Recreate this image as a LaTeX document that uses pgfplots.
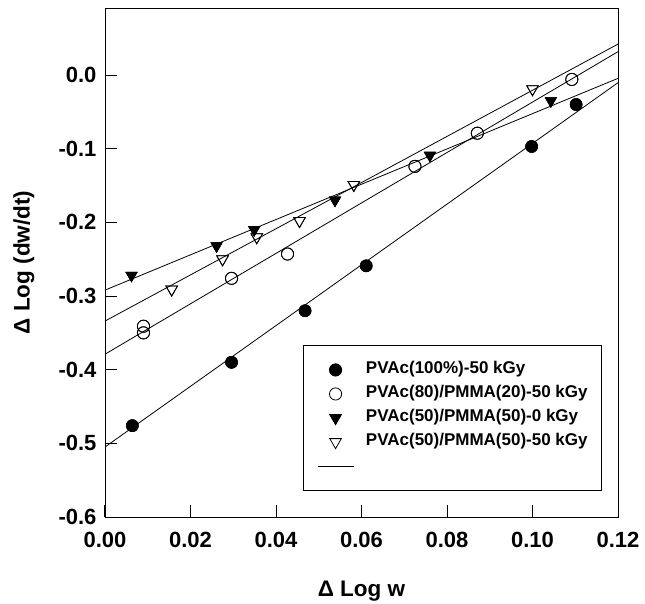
\documentclass[border=0pt]{standalone}
\usepackage{pgfplots}
\pgfplotsset{compat=1.18}
\usepackage{fontspec}
\setmainfont{Liberation Sans}
\begin{document}
\begin{tikzpicture}
\path[use as bounding box] (-105pt,-86pt) rectangle (540pt,517pt);
\begin{axis}[
  at={(0pt,0pt)}, anchor=south west,
  scale only axis, width=513pt, height=509pt,
  xmin=0, xmax=0.12, ymin=-0.6, ymax=0.091,
  axis line style={line width=0.9pt},
  tick pos=left, tick align=inside, major tick length=12pt,
  tick style={line width=1pt, black},
  xtick={0,0.02,0.04,0.06,0.08,0.10,0.12},
  xticklabels={0.00,0.02,0.04,0.06,0.08,0.10,0.12},
  ytick={-0.6,-0.5,-0.4,-0.3,-0.2,-0.1,0.0},
  yticklabels={-0.6,-0.5,-0.4,-0.3,-0.2,-0.1,0.0},
  tick label style={font=\fontsize{22}{26}\selectfont\bfseries},
  xticklabel style={yshift=-12pt},
  yticklabel style={xshift=-5pt},
  xlabel={Δ Log w},
  ylabel={Δ Log (dw/dt)},
  every axis x label/.style={at={(axis description cs:0.5,-0.1454)}, anchor=center,
    font=\fontsize{22.5}{27}\selectfont\bfseries},
  every axis y label/.style={at={(axis description cs:-0.158,0.5)}, rotate=90, anchor=center,
    font=\fontsize{22.5}{27}\selectfont\bfseries},
  legend image code/.code={\draw[mark repeat=2,mark phase=2,#1] plot coordinates {(0pt,0pt)(18pt,0pt)(36pt,0pt)};},
  legend style={at={(rel axis cs:0.3854,0.3379)}, anchor=north west,
    draw=black, line width=0.9pt,
    font=\fontsize{17}{20}\selectfont\bfseries,
    inner xsep=14pt, inner ysep=12.5pt,
    column sep=12pt, row sep=0pt,
    nodes={inner sep=0pt, text height=16pt, text depth=8pt}},
  legend cell align=left,
]
% data points
\addplot[only marks, mark=*, mark size=6.1pt, mark options={fill=black, draw=black}]
  coordinates {(0.0064,-0.476) (0.0296,-0.390) (0.0468,-0.320) (0.0611,-0.259) (0.0998,-0.097) (0.1102,-0.040)};
\addlegendentry{PVAc(100\%)-50 kGy}
\addplot[only marks, mark=o, mark size=6.1pt, mark options={fill=white, draw=black, line width=0.8pt}]
  coordinates {(0.0090,-0.341) (0.0090,-0.350) (0.0296,-0.276) (0.0427,-0.243) (0.0725,-0.124) (0.0871,-0.079) (0.1092,-0.006)};
\addlegendentry{PVAc(80)/PMMA(20)-50 kGy}
\addplot[only marks, mark=triangle*, mark size=6.7pt, mark options={rotate=180, fill=black, draw=black}]
  coordinates {(0.0062,-0.272) (0.0261,-0.232) (0.0349,-0.210) (0.0538,-0.170) (0.0760,-0.109) (0.1043,-0.035)};
\addlegendentry{PVAc(50)/PMMA(50)-0 kGy}
\addplot[only marks, mark=triangle, mark size=6.7pt, mark options={rotate=180, fill=white, draw=black, line width=0.8pt}]
  coordinates {(0.0156,-0.291) (0.0275,-0.250) (0.0355,-0.220) (0.0455,-0.198) (0.0582,-0.149) (0.1000,-0.019)};
\addlegendentry{PVAc(50)/PMMA(50)-50 kGy}
% fitted lines
\addplot[black, line width=0.8pt] coordinates {(0,-0.505) (0.12,-0.0104)};
\addlegendentry{\strut}
\addplot[black, line width=0.8pt, forget plot] coordinates {(0,-0.379) (0.12,0.0317)};
\addplot[black, line width=0.8pt, forget plot] coordinates {(0,-0.292) (0.12,-0.0045)};
\addplot[black, line width=0.8pt, forget plot] coordinates {(0,-0.334) (0.12,0.042)};
% redraw markers on top of lines
\addplot[only marks, mark=*, mark size=6.1pt, mark options={fill=black, draw=black}, forget plot]
  coordinates {(0.0064,-0.476) (0.0296,-0.390) (0.0468,-0.320) (0.0611,-0.259) (0.0998,-0.097) (0.1102,-0.040)};
\addplot[only marks, mark=o, mark size=6.1pt, mark options={fill=white, draw=black, line width=0.8pt}, forget plot]
  coordinates {(0.0090,-0.341) (0.0090,-0.350) (0.0296,-0.276) (0.0427,-0.243) (0.0725,-0.124) (0.0871,-0.079) (0.1092,-0.006)};
\addplot[only marks, mark=triangle*, mark size=6.7pt, mark options={rotate=180, fill=black, draw=black}, forget plot]
  coordinates {(0.0062,-0.272) (0.0261,-0.232) (0.0349,-0.210) (0.0538,-0.170) (0.0760,-0.109) (0.1043,-0.035)};
\addplot[only marks, mark=triangle, mark size=6.7pt, mark options={rotate=180, fill=white, draw=black, line width=0.8pt}, forget plot]
  coordinates {(0.0156,-0.291) (0.0275,-0.250) (0.0355,-0.220) (0.0455,-0.198) (0.0582,-0.149) (0.1000,-0.019)};
\end{axis}
\end{tikzpicture}
\end{document}
